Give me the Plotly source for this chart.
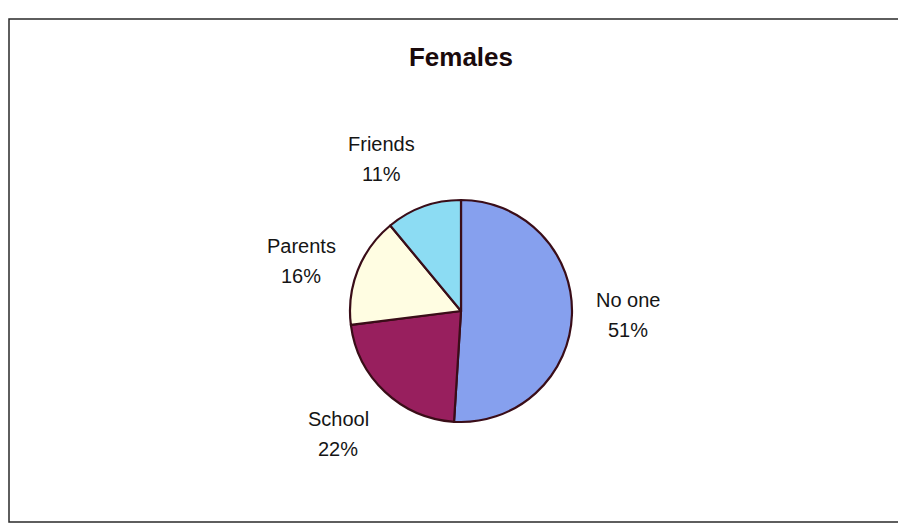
import math
import plotly.graph_objects as go

categories = ["No one", "School", "Parents", "Friends"]
values = [51, 22, 16, 11]
colors = ["#86A0EE", "#981F5E", "#FFFDE2", "#8CDCF3"]

# page is drawn with an 8px body margin; figure sized to fill the window
OFF = 8
W, H = 906 - OFF, 529 - OFF
cx, cy, r = 461 - OFF, 311 - OFF, 111   # pie centre / radius in figure pixels
FONT = "Liberation Sans, Arial"
FS = 20

fig = go.Figure(go.Pie(
    labels=categories,
    values=values,
    sort=False,
    direction="clockwise",
    rotation=0,
    marker=dict(colors=colors, line=dict(color="#3A0D18", width=2.2)),
    textinfo="none",
    hoverinfo="label+percent",
    showlegend=False,
    domain=dict(x=[(cx - r) / W, (cx + r) / W], y=[(H - cy - r) / H, (H - cy + r) / H]),
))

# approximate Arial advance widths (per 1000 em) for label sizing
CW = {"F": 611, "r": 333, "i": 222, "e": 556, "n": 556, "d": 556, "s": 500, "P": 667,
      "a": 556, "t": 278, "N": 722, "o": 556, " ": 278, "S": 667, "c": 500, "h": 556,
      "l": 222, "%": 889}


def text_w(s):
    return sum(CW.get(ch, 556) for ch in s) / 1000 * FS


annotations = []
total = sum(values)
cum = 0
GAP = 24
LINE = 30
for name, v in zip(categories, values):
    mid = (cum + v / 2) / total * 2 * math.pi
    cum += v
    sx, cyv = math.sin(mid), math.cos(mid)
    px = cx + (r + GAP) * sx
    py = cy - (r + GAP) * cyv
    pct = f"{round(v / total * 100)}%"
    w = max(text_w(name), text_w(pct))
    h = LINE + FS
    bx = px + w / 2 if sx > 0 else px - w / 2
    if cyv > 0.5:
        by = py - h / 2
    elif cyv < -0.5:
        by = py + h / 2
    else:
        by = py
    for txt, dy in ((name, -LINE / 2), (pct, LINE / 2)):
        annotations.append(dict(
            text=txt, xref="paper", yref="paper",
            x=bx / W, y=1 - (by + dy) / H, xanchor="center", yanchor="middle",
            showarrow=False, font=dict(family=FONT, size=FS, color="#151515")))

fig.update_layout(
    width=W, height=H,
    margin=dict(l=0, r=0, t=0, b=0),
    paper_bgcolor="white",
    plot_bgcolor="white",
    title=dict(text="<b>Females</b>", x=(461 - OFF) / W, xanchor="center",
               y=1 - (57 - OFF) / H, yanchor="middle",
               font=dict(family=FONT, size=26, color="#1A0A0C")),
    annotations=annotations,
    shapes=[dict(type="rect", xref="paper", yref="paper",
                 x0=1 / W, x1=(912 - OFF) / W, y0=1 - (522 - OFF) / H, y1=1 - (19 - OFF) / H,
                 line=dict(color="#2A2A2A", width=1.5))],
)

fig.write_html("out.html")
